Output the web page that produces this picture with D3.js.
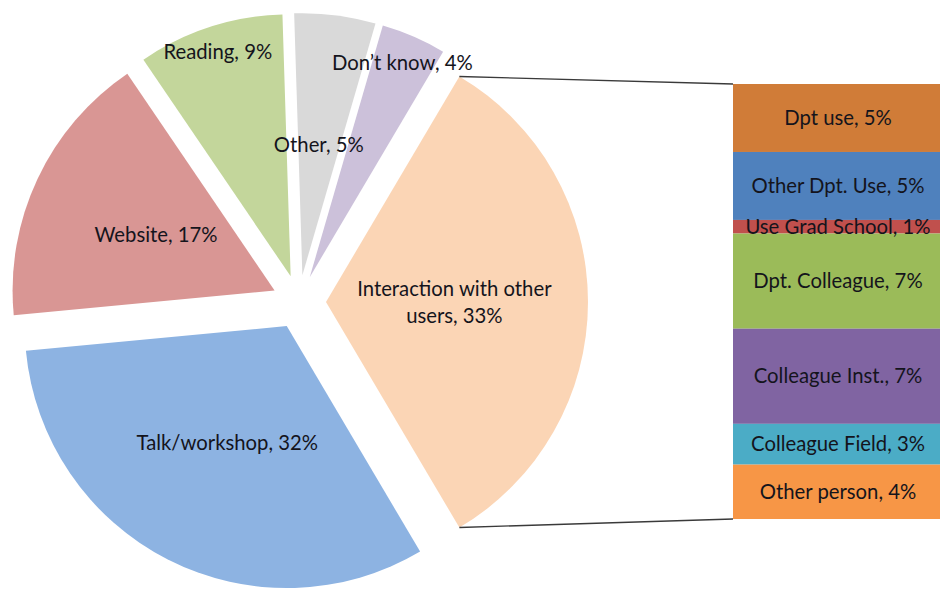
<!DOCTYPE html>
<html>
<head>
<meta charset="utf-8">
<script src="https://cdn.jsdelivr.net/npm/d3@7"></script>
<style>
  html, body { margin: 0; padding: 0; background: #fff; }
  svg { display: block; }
  text { font-family: Lato, "Open Sans", sans-serif; fill: #14141c; }
</style>
</head>
<body>
<svg id="chart" width="940" height="589"></svg>
<script>
// Main pie: where people learned about the service
const pieLabels = ["Interaction with other users", "Talk/workshop", "Website", "Reading", "Other", "Don\u2019t know"];
const pieValues = [33, 32, 17, 9, 5, 4];
const pieColors = ["#fbd5b5", "#8db3e2", "#d99694", "#c3d69b", "#d9d9d9", "#ccc1da"];

// Breakdown of the "Interaction with other users" slice
const barLabels = ["Dpt use", "Other Dpt. Use", "Use Grad School", "Dpt. Colleague", "Colleague Inst.", "Colleague Field", "Other person"];
const barValues = [5, 5, 1, 7, 7, 3, 4];
const barColors = ["#d07c38", "#4f81bd", "#c0504d", "#9bbb59", "#8064a2", "#4bacc6", "#f79646"];

const svg = d3.select("#chart");

// Pie geometry
const cx = 299, cy = 302, R = 262, explode = 27;
const fontSize = 20.3;

const total = d3.sum(pieValues);
// rotate so the first (broken-out) slice is centred on the 3 o'clock direction
const start = Math.PI / 2 - Math.PI * pieValues[0] / total;
const pie = d3.pie().sort(null).value(d => d.value)
  .startAngle(start).endAngle(start + 2 * Math.PI);
const arcs = pie(pieValues.map((v, i) => ({ label: pieLabels[i], value: v, color: pieColors[i] })));
const arcGen = d3.arc().innerRadius(0).outerRadius(R);

const dir = a => [Math.sin(a), -Math.cos(a)];
// label distance along each slice's bisector, as a fraction of the radius
const labelDepth = [0.49, 0.5, 0.5, 0.9, 0.5, 0.89];

const slices = svg.append("g").attr("transform", `translate(${cx},${cy})`);
arcs.forEach((a, i) => {
  const mid = (a.startAngle + a.endAngle) / 2;
  const [dx, dy] = dir(mid);
  const g = slices.append("g").attr("transform", `translate(${dx * explode},${dy * explode})`);
  g.append("path").attr("d", arcGen(a)).attr("fill", a.data.color);
  a.apex = [cx + dx * explode, cy + dy * explode];
  a.mid = mid;
});

// Connector lines from the broken-out slice to the stacked bar
const barX = 733, barW = 210, barTop = 84, barBottom = 519;
const y = d3.scaleLinear().domain([0, d3.sum(barValues)]).range([barTop, barBottom]);
const first = arcs[0];
const p1 = [first.apex[0] + R * Math.sin(first.startAngle), first.apex[1] - R * Math.cos(first.startAngle)];
const p2 = [first.apex[0] + R * Math.sin(first.endAngle), first.apex[1] - R * Math.cos(first.endAngle)];
svg.append("line").attr("x1", p1[0]).attr("y1", p1[1]).attr("x2", barX).attr("y2", y(0))
  .attr("stroke", "#3a3a3a").attr("stroke-width", 1.3);
svg.append("line").attr("x1", p2[0]).attr("y1", p2[1]).attr("x2", barX).attr("y2", y(d3.sum(barValues)))
  .attr("stroke", "#3a3a3a").attr("stroke-width", 1.3);

// Stacked bar
let acc = 0;
const segs = barValues.map((v, i) => {
  const s = { label: barLabels[i], value: v, color: barColors[i], y0: acc, y1: acc + v };
  acc += v;
  return s;
});
const bar = svg.append("g");
bar.selectAll("rect").data(segs).join("rect")
  .attr("x", barX).attr("width", barW)
  .attr("y", d => y(d.y0)).attr("height", d => y(d.y1) - y(d.y0))
  .attr("fill", d => d.color);
bar.selectAll("text").data(segs).join("text")
  .attr("x", barX + 105).attr("y", d => (y(d.y0) + y(d.y1)) / 2)
  .attr("dy", "0.35em").attr("text-anchor", "middle").attr("font-size", fontSize)
  .text(d => `${d.label}, ${d.value}%`);

// Pie labels
arcs.forEach((a, i) => {
  const [dx, dy] = dir(a.mid);
  const lx = a.apex[0] + dx * R * labelDepth[i];
  const ly = a.apex[1] + dy * R * labelDepth[i];
  const t = svg.append("text").attr("text-anchor", "middle").attr("font-size", fontSize);
  if (i === 0) {
    t.append("tspan").attr("x", lx).attr("y", ly - 13.5).attr("dy", "0.35em").text("Interaction with other");
    t.append("tspan").attr("x", lx).attr("y", ly + 13.5).attr("dy", "0.35em").text(`users, ${a.data.value}%`);
  } else {
    t.attr("x", lx).attr("y", ly).attr("dy", "0.35em").text(`${a.data.label}, ${a.data.value}%`);
  }
});
</script>
</body>
</html>
